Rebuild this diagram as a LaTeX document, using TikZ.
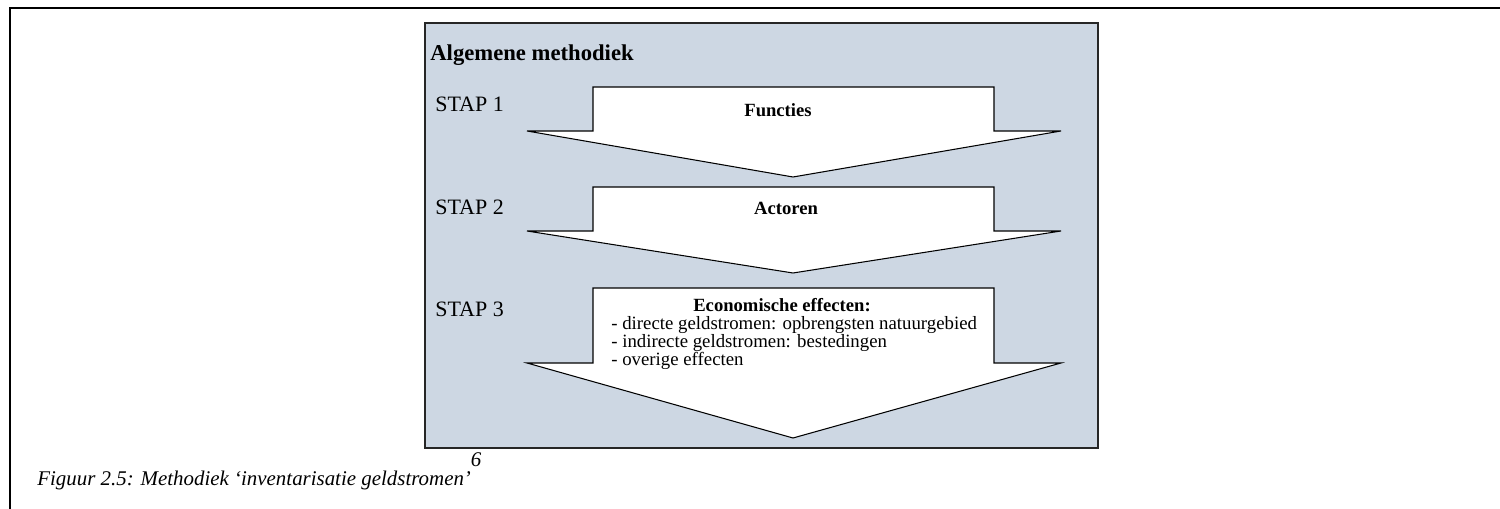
\documentclass[tikz,border=0pt]{standalone}
\usepackage{fontspec}
\setmainfont{Liberation Serif}
\usetikzlibrary{calc}
\definecolor{boxgray}{RGB}{205,215,227}

\tikzset{
  steplabel/.style={anchor=base west, inner sep=0pt, font=\fontsize{12.5}{15}\selectfont},
  arrowlabel/.style={anchor=base, font=\bfseries\fontsize{10.6}{12}\selectfont},
  itemlabel/.style={anchor=base west, inner sep=0pt, font=\fontsize{10.7}{12}\selectfont},
  steparrow/.style={fill=white, draw=black, line width=0.6pt, line join=miter}
}

\begin{document}
\begin{tikzpicture}[x=0.02cm,y=-0.02cm]
\def\stemL{593}
\def\stemR{994}
\def\headL{527}
\def\headR{1061}
\def\tipX{793}

\useasboundingbox (0,0) rectangle (1500,509);

% outer frame of the page
\coordinate (f1) at (10,509);
\coordinate (f2) at (10,8);
\coordinate (f3) at (1500,8);
\draw[line width=1.1pt] (f1) -- (f2) -- (f3);

% grey panel
\coordinate (p1) at (425,23);
\coordinate (p2) at (1098,448);
\filldraw[fill=boxgray, draw=black!85, line width=0.8pt] (p1) rectangle (p2);

\node[anchor=base west, inner sep=0pt, font=\bfseries\fontsize{12.9}{15}\selectfont] (title) at (430,61) {Algemene methodiek};

% step arrows
\filldraw[steparrow] (\stemL,87) -- (\stemR,87) -- (\stemR,131) -- (\headR,131)
      -- (\tipX,177) -- (\headL,131) -- (\stemL,131) -- cycle;

\filldraw[steparrow] (\stemL,187) -- (\stemR,187) -- (\stemR,231) -- (\headR,231)
      -- (\tipX,273) -- (\headL,231) -- (\stemL,231) -- cycle;

\filldraw[steparrow] (\stemL,288) -- (\stemR,288) -- (\stemR,363) -- (\headR,363)
      -- (\tipX,438) -- (\headL,363) -- (\stemL,363) -- cycle;

% step names
\node[steplabel] (stap1) at (435,112) {STAP 1};
\node[steplabel] (stap2) at (435,215) {STAP 2};
\node[steplabel] (stap3) at (435,317) {STAP 3};

% arrow texts
\node[arrowlabel] (functies) at (778,117) {Functies};
\node[arrowlabel] (actoren) at (786,215) {Actoren};
\node[arrowlabel] (econ) at (782,312) {Economische effecten:};
\node[itemlabel] (item1) at (611,330) {- directe geldstromen: opbrengsten natuurgebied};
\node[itemlabel] (item2) at (611,348) {- indirecte geldstromen: bestedingen};
\node[itemlabel] (item3) at (611,366) {- overige effecten};

% caption
\node[anchor=base west, inner sep=0pt, font=\itshape\fontsize{11.9}{14}\selectfont] (caption) at (37,485)
  {Figuur 2.5: Methodiek ‘inventarisatie geldstromen’\raisebox{10.5pt}{6}};

\end{tikzpicture}
\end{document}
